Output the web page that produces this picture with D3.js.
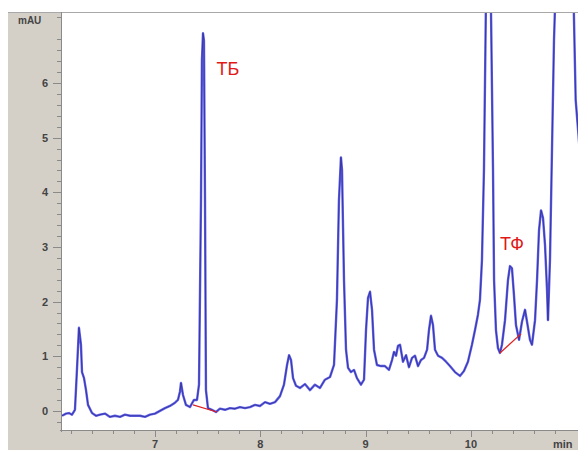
<!DOCTYPE html>
<html>
<head>
<meta charset="utf-8">
<script src="https://cdn.jsdelivr.net/npm/d3@7"></script>
<style>
  body { margin: 0; background: #fff; }
  svg { display: block; }
</style>
</head>
<body>
<div id="chart"></div>
<script>
// retention time, min
const times = [
  6.117, 6.155, 6.183, 6.212, 6.240, 6.259, 6.278, 6.297, 6.307, 6.326, 6.345, 6.364, 6.402, 6.440,
  6.478, 6.525, 6.573, 6.620, 6.668, 6.715, 6.763, 6.810, 6.858, 6.905, 6.953, 7.000, 7.047, 7.095,
  7.142, 7.190, 7.218, 7.237, 7.247, 7.266, 7.294, 7.332, 7.370, 7.399, 7.418, 7.437, 7.446, 7.456,
  7.465, 7.475, 7.484, 7.503, 7.541, 7.579, 7.617, 7.665, 7.712, 7.760, 7.807, 7.855, 7.902, 7.950,
  7.997, 8.045, 8.092, 8.140, 8.187, 8.225, 8.254, 8.273, 8.292, 8.311, 8.339, 8.377, 8.424, 8.472,
  8.519, 8.567, 8.614, 8.662, 8.700, 8.728, 8.747, 8.766, 8.776, 8.795, 8.814, 8.833, 8.861, 8.890,
  8.918, 8.956, 8.985, 9.004, 9.023, 9.042, 9.061, 9.080, 9.108, 9.146, 9.184, 9.222, 9.251, 9.270,
  9.289, 9.308, 9.327, 9.355, 9.384, 9.412, 9.441, 9.469, 9.498, 9.526, 9.555, 9.584, 9.602, 9.621,
  9.640, 9.659, 9.688, 9.726, 9.764, 9.801, 9.849, 9.896, 9.934, 9.972, 10.010, 10.039, 10.067, 10.086,
  10.105, 10.124, 10.143, 10.162, 10.191, 10.210, 10.220, 10.238, 10.257, 10.276, 10.295, 10.324, 10.352, 10.371,
  10.390, 10.409, 10.428, 10.457, 10.485, 10.514, 10.533, 10.561, 10.580, 10.609, 10.628, 10.647, 10.666, 10.685,
  10.704, 10.723, 10.732, 10.751, 10.770, 10.789, 10.798, 10.830, 10.970, 10.995, 11.040
];

// absorbance, mAU
const signal = [
  -0.09, -0.05, -0.04, -0.07, 0.02, 0.75, 1.52, 1.21, 0.71, 0.60, 0.38, 0.11, -0.04, -0.09,
  -0.07, -0.05, -0.11, -0.09, -0.11, -0.07, -0.09, -0.09, -0.09, -0.11, -0.07, -0.05, 0.00, 0.05,
  0.09, 0.15, 0.20, 0.35, 0.51, 0.29, 0.11, 0.07, 0.20, 0.20, 0.48, 3.86, 6.42, 6.91,
  6.78, 3.86, 0.38, 0.05, 0.02, -0.02, 0.04, 0.02, 0.05, 0.04, 0.07, 0.05, 0.07, 0.11,
  0.09, 0.16, 0.13, 0.16, 0.27, 0.48, 0.84, 1.02, 0.93, 0.60, 0.46, 0.42, 0.49, 0.38,
  0.48, 0.42, 0.57, 0.62, 0.84, 2.03, 3.86, 4.64, 4.41, 2.39, 1.12, 0.79, 0.71, 0.75,
  0.60, 0.48, 0.57, 1.48, 2.07, 2.18, 1.85, 1.12, 0.84, 0.82, 0.82, 0.75, 0.93, 1.08,
  1.01, 1.19, 1.21, 0.90, 1.02, 0.80, 0.97, 1.01, 0.82, 0.93, 0.97, 1.12, 1.48, 1.74,
  1.57, 1.12, 1.01, 0.97, 0.90, 0.82, 0.71, 0.64, 0.73, 0.90, 1.21, 1.48, 1.76, 2.03,
  2.76, 4.41, 7.50, 12.0, 7.30, 4.41, 2.39, 1.48, 1.15, 1.06, 1.21, 1.66, 2.39, 2.65,
  2.61, 2.12, 1.57, 1.30, 1.63, 1.85, 1.63, 1.30, 1.21, 1.66, 2.39, 3.31, 3.67, 3.53,
  3.03, 2.21, 1.66, 2.76, 4.77, 6.78, 7.33, 14.0, 8.0, 5.69, 4.60
];

// integration baselines (red) under the labelled peaks
const baseTB = [[7.361, 0.11], [7.589, -0.02]];
const baseTF = [[10.276, 1.06], [10.476, 1.41]];

const peakLabels = [
  { text: 'ТБ', t: 7.585, v: 6.14 },
  { text: 'ТФ', t: 10.276, v: 2.94 }
];

const yTicks = [0, 1, 2, 3, 4, 5, 6];
const xTicks = [7, 8, 9, 10];

const width = 578, height = 450;
const plot = { left: 62, top: 12, right: 590, bottom: 430 };
const gray = '#d4d0c8';

const svg = d3.select('#chart').append('svg')
  .attr('width', width)
  .attr('height', height);

const x = d3.scaleLinear().domain([6.117, 11.131]).range([plot.left, plot.right]);
const y = d3.scaleLinear().domain([-0.35, 7.30]).range([plot.bottom, plot.top]);

// frame
svg.append('rect')
  .attr('x', 8).attr('y', 12)
  .attr('width', width - 8).attr('height', height - 12)
  .attr('fill', gray);

svg.append('rect')
  .attr('x', plot.left).attr('y', plot.top)
  .attr('width', plot.right - plot.left).attr('height', plot.bottom - plot.top)
  .attr('fill', '#fff');

svg.append('line')
  .attr('x1', 8).attr('x2', width)
  .attr('y1', 12.5).attr('y2', 12.5)
  .attr('stroke', '#a8a8a8');

// y axis
const yAxis = svg.append('g').attr('stroke', '#8a8a8a');
yAxis.append('line')
  .attr('x1', plot.left - 0.5).attr('x2', plot.left - 0.5)
  .attr('y1', plot.top).attr('y2', plot.bottom + 2);
yAxis.selectAll('line.minor')
  .data(d3.range(-0.2, 7.3, 0.2).filter(v => Math.abs(v - Math.round(v)) > 0.01))
  .join('line')
  .attr('class', 'minor')
  .attr('x1', plot.left - 5).attr('x2', plot.left - 1)
  .attr('y1', d => Math.round(y(d)) + 0.5).attr('y2', d => Math.round(y(d)) + 0.5);
yAxis.selectAll('line.major')
  .data(yTicks)
  .join('line')
  .attr('class', 'major')
  .attr('x1', plot.left - 9).attr('x2', plot.left - 1)
  .attr('y1', d => Math.round(y(d)) + 0.5).attr('y2', d => Math.round(y(d)) + 0.5);

svg.selectAll('text.ylab')
  .data(yTicks)
  .join('text')
  .attr('class', 'ylab')
  .attr('x', 48)
  .attr('y', d => y(d) + 4)
  .attr('text-anchor', 'end')
  .attr('font-family', 'Arial, "Liberation Sans", sans-serif')
  .attr('font-size', 11)
  .attr('font-weight', 'bold')
  .attr('fill', '#444')
  .text(d => d);

svg.append('text')
  .attr('x', 18).attr('y', 24)
  .attr('font-family', 'Arial, "Liberation Sans", sans-serif')
  .attr('font-size', 10)
  .attr('font-weight', 'bold')
  .attr('fill', '#444')
  .text('mAU');

// x axis
const xAxis = svg.append('g').attr('stroke', '#8a8a8a');
xAxis.append('line')
  .attr('x1', plot.left - 2).attr('x2', width)
  .attr('y1', plot.bottom + 0.5).attr('y2', plot.bottom + 0.5);
xAxis.selectAll('line.minor')
  .data(d3.range(6.2, 11.1, 0.2).filter(t => Math.abs(t - Math.round(t)) > 0.01))
  .join('line')
  .attr('class', 'minor')
  .attr('x1', d => Math.round(x(d)) + 0.5).attr('x2', d => Math.round(x(d)) + 0.5)
  .attr('y1', plot.bottom + 1).attr('y2', plot.bottom + 4);
xAxis.selectAll('line.major')
  .data(xTicks)
  .join('line')
  .attr('class', 'major')
  .attr('x1', d => Math.round(x(d)) + 0.5).attr('x2', d => Math.round(x(d)) + 0.5)
  .attr('y1', plot.bottom + 1).attr('y2', plot.bottom + 7);

svg.selectAll('text.xlab')
  .data(xTicks)
  .join('text')
  .attr('class', 'xlab')
  .attr('x', d => x(d))
  .attr('y', 448)
  .attr('text-anchor', 'middle')
  .attr('font-family', 'Arial, "Liberation Sans", sans-serif')
  .attr('font-size', 11)
  .attr('font-weight', 'bold')
  .attr('fill', '#444')
  .text(d => d);

svg.append('text')
  .attr('x', 553).attr('y', 448)
  .attr('font-family', 'Arial, "Liberation Sans", sans-serif')
  .attr('font-size', 11)
  .attr('font-weight', 'bold')
  .attr('fill', '#444')
  .text('min');

// trace, clipped to the plot area
svg.append('clipPath').attr('id', 'clip')
  .append('rect')
  .attr('x', plot.left).attr('y', plot.top + 1)
  .attr('width', plot.right - plot.left).attr('height', plot.bottom - plot.top - 1);

const pts = times.map((t, i) => [t, signal[i]]);
const line = d3.line().x(d => x(d[0])).y(d => y(d[1]));

const trace = svg.append('g').attr('clip-path', 'url(#clip)');
trace.append('path')
  .attr('d', line(pts))
  .attr('fill', 'none')
  .attr('stroke', '#6262e6')
  .attr('stroke-width', 2.4)
  .attr('stroke-linejoin', 'round');
trace.append('path')
  .attr('d', line(pts))
  .attr('fill', 'none')
  .attr('stroke', '#2c2c9a')
  .attr('stroke-width', 0.8)
  .attr('stroke-linejoin', 'round');

[baseTB, baseTF].forEach(b => {
  trace.append('path')
    .attr('d', line(b))
    .attr('fill', 'none')
    .attr('stroke', '#e02020')
    .attr('stroke-width', 1.2);
});

svg.selectAll('text.peak')
  .data(peakLabels)
  .join('text')
  .attr('class', 'peak')
  .attr('x', d => x(d.t))
  .attr('y', d => y(d.v))
  .attr('font-family', 'Arial, "Liberation Sans", sans-serif')
  .attr('font-size', 18)
  .attr('fill', '#e01818')
  .text(d => d.text);
</script>
</body>
</html>
